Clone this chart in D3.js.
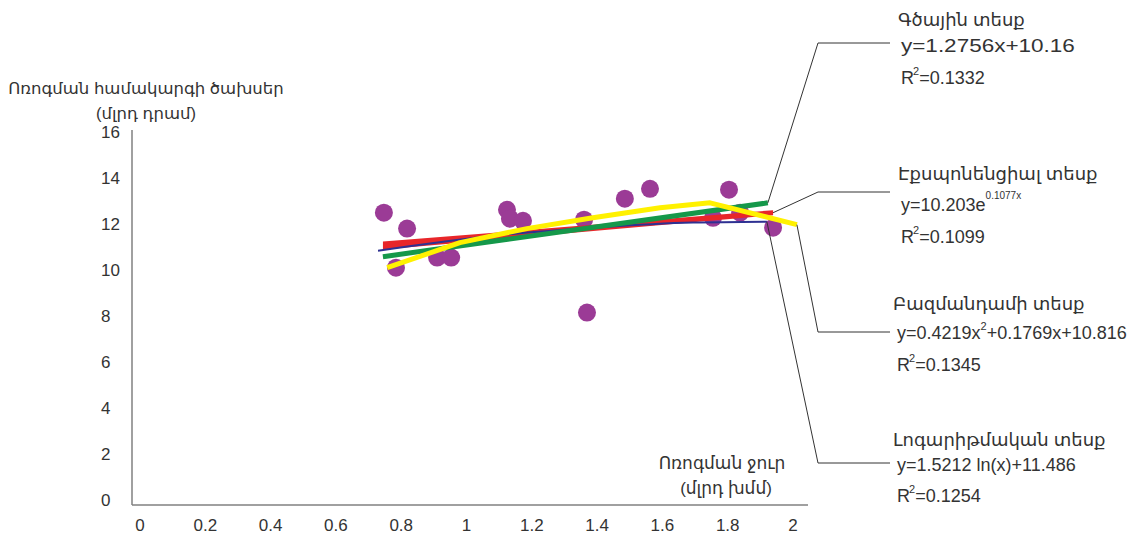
<!DOCTYPE html>
<html>
<head>
<meta charset="utf-8">
<script src="https://cdn.jsdelivr.net/npm/d3@7"></script>
<style>
  body { margin: 0; background: #fff; }
  text { font-family: "Liberation Sans", Arial, "DejaVu Sans", sans-serif; fill: #333; }
</style>
</head>
<body>
<div id="chart"></div>
<script>
// tick labels
const xTicks = [0, 0.2, 0.4, 0.6, 0.8, 1, 1.2, 1.4, 1.6, 1.8, 2];
const yTicks = [0, 2, 4, 6, 8, 10, 12, 14, 16];

// scatter: irrigation water (bn m3) vs system cost (bn AMD)
const waterX = [0.747, 0.818, 0.784, 0.910, 0.953, 1.124, 1.133, 1.173, 1.360, 1.369, 1.485, 1.562, 1.755, 1.804, 1.838, 1.939];
const costY  = [12.49, 11.80, 10.10, 10.54, 10.54, 12.62, 12.23, 12.14, 12.19, 8.15, 13.10, 13.53, 12.27, 13.49, 12.49, 11.84];

// trend lines as drawn in the picture
const linearFit = [[0.744, 10.58], [1.923, 12.92]];
const expFit    = [[0.744, 11.06], [1.939, 12.49]];
const polyFit   = [[0.757, 10.10], [0.980, 11.19], [1.185, 11.80], [1.387, 12.27], [1.593, 12.71], [1.746, 12.92], [2.012, 11.97]];
const logFit    = [[0.729, 10.84], [1.081, 11.49], [1.400, 11.85], [1.694, 12.06], [1.920, 12.10]];

// annotation texts
const fitNames = ['Գծային տեսք', 'Էքսպոնենցիալ տեսք', 'Բազմանդամի տեսք', 'Լոգարիթմական տեսք'];
const fitR2 = ['0.1332', '0.1099', '0.1345', '0.1254'];

const width = 1147, height = 535;

const svg = d3.select('#chart').append('svg')
  .attr('width', width)
  .attr('height', height);

const x = d3.scaleLinear().domain([0, 2]).range([140, 793]);
const y = d3.scaleLinear().domain([0, 16]).range([500, 132]);

// axes lines
svg.append('line')
  .attr('x1', 132).attr('x2', 132).attr('y1', 130).attr('y2', 505)
  .attr('stroke', '#808080').attr('stroke-width', 1.5);
svg.append('line')
  .attr('x1', 132).attr('x2', 808).attr('y1', 505).attr('y2', 505)
  .attr('stroke', '#808080').attr('stroke-width', 1.5);

svg.append('g').selectAll('text')
  .data(yTicks)
  .enter().append('text')
  .attr('x', 101)
  .attr('y', d => y(d) + 6)
  .attr('font-size', 17)
  .text(d => d);

svg.append('g').selectAll('text')
  .data(xTicks)
  .enter().append('text')
  .attr('x', d => x(d))
  .attr('y', 531)
  .attr('text-anchor', 'middle')
  .attr('font-size', 17)
  .text(d => d);

// axis titles
svg.append('text').attr('x', 146).attr('y', 94).attr('text-anchor', 'middle')
  .attr('font-size', 16.5).text('Ոռոգման համակարգի ծախսեր');
svg.append('text').attr('x', 146).attr('y', 119).attr('text-anchor', 'middle')
  .attr('font-size', 16.5).text('(մլրդ դրամ)');
svg.append('text').attr('x', 722).attr('y', 469).attr('text-anchor', 'middle')
  .attr('font-size', 17).text('Ոռոգման ջուր');
svg.append('text').attr('x', 726).attr('y', 494).attr('text-anchor', 'middle')
  .attr('font-size', 17).text('(մլրդ խմմ)');

// points
svg.append('g').selectAll('circle')
  .data(waterX.map((d, i) => [d, costY[i]]))
  .enter().append('circle')
  .attr('cx', d => x(d[0]))
  .attr('cy', d => y(d[1]))
  .attr('r', 9)
  .attr('fill', '#9b3b96');

const line = d3.line().x(d => x(d[0])).y(d => y(d[1]));
const curve = d3.line().x(d => x(d[0])).y(d => y(d[1])).curve(d3.curveMonotoneX);

// red one is drawn as a tapering wedge (8px -> 5px)
const wedge = d3.area()
  .x(d => x(d[0]))
  .y0((d, i) => y(d[1]) - (i === 0 ? 4 : 2.5))
  .y1((d, i) => y(d[1]) + (i === 0 ? 4 : 2.5));
svg.append('path')
  .attr('d', wedge(expFit))
  .attr('fill', '#e8262a');

const fits = [
  { data: logFit,    color: '#2e3192', w: 2, gen: curve },
  { data: linearFit, color: '#15984a', w: 5, gen: line },
  { data: polyFit,   color: '#fff100', w: 5, gen: line },
];

svg.append('g').selectAll('path')
  .data(fits)
  .enter().append('path')
  .attr('d', d => d.gen(d.data))
  .attr('fill', 'none')
  .attr('stroke', d => d.color)
  .attr('stroke-width', d => d.w)
  .attr('stroke-linejoin', 'round');

// annotation connectors: label row y, trend end point
const connectors = [
  { yh: 43,  end: linearFit[linearFit.length - 1] },
  { yh: 192, end: expFit[expFit.length - 1] },
  { yh: 332, end: polyFit[polyFit.length - 1] },
  { yh: 463, end: logFit[logFit.length - 1] },
];
svg.append('g').selectAll('polyline')
  .data(connectors)
  .enter().append('polyline')
  .attr('points', d => `890,${d.yh} 818,${d.yh} ${x(d.end[0])},${y(d.end[1])}`)
  .attr('fill', 'none')
  .attr('stroke', '#333')
  .attr('stroke-width', 1);

// annotation texts
const labelX = [898, 898, 893, 893];
const eqX = [901, 901, 897, 897];
const nameY = [26, 180, 310, 446];
const eqY = [52, 211, 339, 471];
const r2Y = [84, 243, 371, 502];

const ann = svg.append('g').attr('font-size', 18);

fitNames.forEach((n, i) => {
  ann.append('text').attr('x', labelX[i]).attr('y', nameY[i]).text(n);
  const r = ann.append('text').attr('x', eqX[i]).attr('y', r2Y[i]);
  r.append('tspan').text('R');
  r.append('tspan').attr('font-size', 11).attr('dy', -9).attr('dx', -1).text('2');
  r.append('tspan').attr('dy', 9).text('=' + fitR2[i]);
});

// equations (the first one is set wider in the original)
ann.append('text')
  .attr('transform', `translate(${eqX[0]},${eqY[0]}) scale(1.25,1)`)
  .text('y=1.2756x+10.16');
const e1 = ann.append('text').attr('x', eqX[1]).attr('y', eqY[1]);
e1.append('tspan').text('y=10.203e');
e1.append('tspan').attr('font-size', 10).attr('dy', -12).text('0.1077x');
const e2 = ann.append('text').attr('x', eqX[2]).attr('y', eqY[2]);
e2.append('tspan').text('y=0.4219x');
e2.append('tspan').attr('font-size', 11).attr('dy', -9).text('2');
e2.append('tspan').attr('dy', 9).text('+0.1769x+10.816');
ann.append('text').attr('x', eqX[3]).attr('y', eqY[3]).text('y=1.5212 ln(x)+11.486');
</script>
</body>
</html>
